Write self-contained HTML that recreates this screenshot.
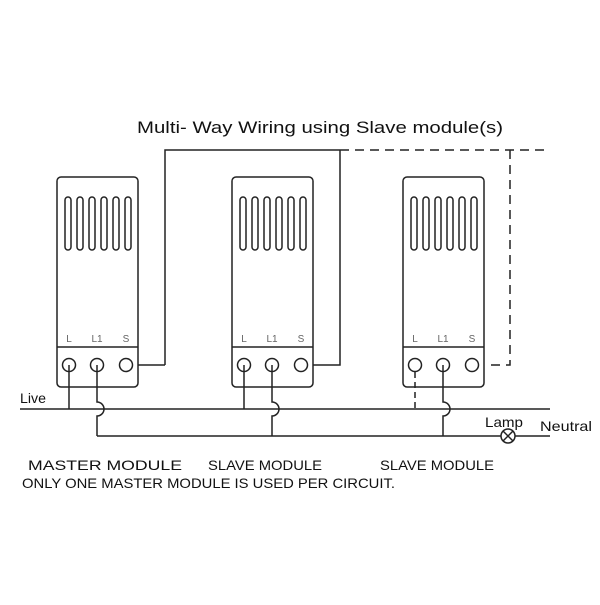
<!DOCTYPE html>
<html><head><style>body{margin:0;background:#fff}</style></head><body>
<svg width="600" height="600" xmlns="http://www.w3.org/2000/svg" xmlns:xlink="http://www.w3.org/1999/xlink" font-family="Liberation Sans, sans-serif">
<defs>
<g id="m" stroke="#222" stroke-width="1.5" fill="none">
<rect x="0" y="0" width="81" height="210" rx="4" fill="#fff"/>
<path d="M0 170H81"/>
<rect x="8" y="20" width="6" height="53" rx="3"/>
<rect x="20" y="20" width="6" height="53" rx="3"/>
<rect x="32" y="20" width="6" height="53" rx="3"/>
<rect x="44" y="20" width="6" height="53" rx="3"/>
<rect x="56" y="20" width="6" height="53" rx="3"/>
<rect x="68" y="20" width="6" height="53" rx="3"/>
<circle cx="12" cy="188" r="6.5"/>
<circle cx="40" cy="188" r="6.5"/>
<circle cx="69" cy="188" r="6.5"/>
<path d="M40 188V225A7 7 0 0 1 40 239V259"/>
<g stroke="none" fill="#666" font-size="10" text-anchor="middle"><text x="12" y="165">L</text><text x="40" y="165">L1</text><text x="69" y="165">S</text></g>
</g>
</defs>
<rect width="600" height="600" fill="#fff"/>
<text x="137" y="133" font-size="17" textLength="366" lengthAdjust="spacingAndGlyphs" fill="#111">Multi- Way Wiring using Slave module(s)</text>
<g stroke="#222" stroke-width="1.5" fill="none">
<path d="M165 365V150H340"/>
<path d="M340 150H550M510 150V365H486" stroke-dasharray="9 6"/>
<path d="M300 365H340V150"/>
<path d="M133 365H165"/>
<path d="M20 409H550"/>
<path d="M97 436H501M515 436H550"/>
<circle cx="508" cy="436" r="7"/>
<path d="M503 431L513 441M513 431L503 441"/>
</g>
<use xlink:href="#m" x="57" y="177"/>
<use xlink:href="#m" x="232" y="177"/>
<use xlink:href="#m" x="403" y="177"/>
<g stroke="#222" stroke-width="1.5" fill="none">
<path d="M69 365V409M244 365V409"/>
<path d="M415 372V409" stroke-dasharray="6 4"/>
</g>
<g font-size="14" fill="#111">
<text x="20" y="403" textLength="26" lengthAdjust="spacingAndGlyphs">Live</text>
<text x="485" y="427" textLength="38" lengthAdjust="spacingAndGlyphs">Lamp</text>
<text x="540" y="431" textLength="52" lengthAdjust="spacingAndGlyphs">Neutral</text>
<text x="28" y="470" textLength="154" lengthAdjust="spacingAndGlyphs">MASTER MODULE</text>
<text x="208" y="470" textLength="114" lengthAdjust="spacingAndGlyphs">SLAVE MODULE</text>
<text x="380" y="470" textLength="114" lengthAdjust="spacingAndGlyphs">SLAVE MODULE</text>
<text x="22" y="488" textLength="373" lengthAdjust="spacingAndGlyphs">ONLY ONE MASTER MODULE IS USED PER CIRCUIT.</text>
</g>
</svg>
</body></html>
